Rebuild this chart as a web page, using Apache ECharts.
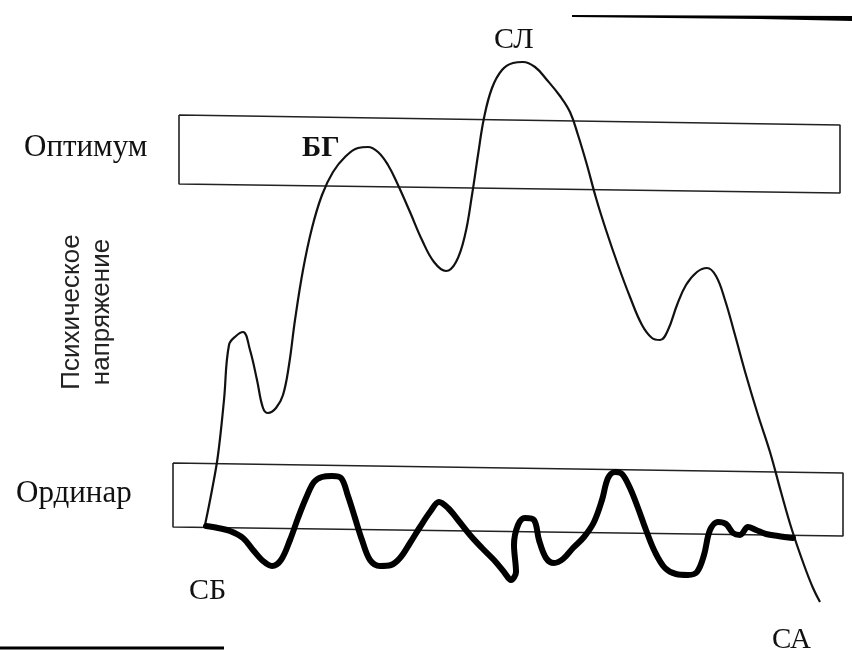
<!DOCTYPE html>
<html><head><meta charset="utf-8">
<script src="https://cdn.jsdelivr.net/npm/echarts@6/dist/echarts.min.js"></script>
<style>html,body{margin:0;padding:0;background:#fff}#c{width:852px;height:651px}</style>
</head><body><div id="c"></div>
<script>
// Thin curve: psychic tension of the athlete (time, tension)
const tensionCurve = [
 [205,525],[212,490],[218,455],[224,400],[229,345],[236,336],[243,332],[250,350],[257,380],[263,408],[268,413],[276,408],[283,395],[289,365],[295,320],[303,270],[312,228],[322,195],[333,172],[345,157],[358,148],[368,147],[378,152],[388,165],[398,185],[410,212],[422,240],[434,262],[446,271],[456,262],[465,235],[472,195],[478,155],[484,118],[492,88],[502,70],[513,63],[523,62],[535,67],[547,80],[560,96],[570,112],[578,135],[587,165],[596,198],[606,230],[618,265],[630,297],[642,325],[652,338],[660,340],[668,330],[677,305],[686,285],[697,272],[707,268],[716,276],[725,300],[735,335],[746,375],[758,415],[770,452],[781,492],[792,530],[804,565],[813,588],[820,602]
];
// Thick curve: ordinary-level fluctuations
const ordinaryCurve = [
 [206,526],[218,528],[230,531],[243,538],[253,550],[263,561],[272,566],[281,560],[290,540],[298,518],[306,498],[314,482],[322,477],[332,476],[341,478],[348,496],[355,518],[362,540],[370,560],[380,566],[391,565],[400,558],[410,543],[420,527],[430,512],[439,502],[448,508],[458,520],[470,535],[482,548],[494,560],[504,572],[511,580],[516,572],[514,545],[518,525],[525,518],[534,520],[539,540],[546,558],[554,563],[563,559],[573,548],[584,537],[594,522],[602,500],[608,478],[615,472],[622,474],[630,488],[638,508],[646,530],[655,552],[665,568],[676,574],[688,575],[697,572],[704,555],[710,530],[718,522],[726,524],[733,533],[740,535],[748,527],[756,530],[766,534],[778,536],[793,538]
];
// Zone boxes (slightly skewed in the scan): [x, y] corners
const optimumBox = [[179,115],[840,125],[840,193],[179,184],[179,115]];
const ordinarBox = [[173,463],[843,473],[843,536],[173,527],[173,463]];
// Text labels
const zoneLabels = ['Оптимум','Ординар'];
const pointLabels = ['БГ','СЛ','СБ','СА'];
const axisTitle = ['Психическое','напряжение'];

const chart = echarts.init(document.getElementById('c'));
const serif = '"Liberation Serif"';
function lbl(text, x, y, size, weight){
  return {type:'text',x:x,y:y,style:{text:text,font:(weight||'normal')+' '+size+'px '+serif,fill:'#111',align:'left',verticalAlign:'middle'}};
}
chart.setOption({
  animation:false,
  backgroundColor:'#fff',
  grid:{left:0,right:0,top:0,bottom:0},
  xAxis:{type:'value',min:0,max:852,show:false},
  yAxis:{type:'value',min:0,max:651,inverse:true,show:false},
  series:[
    {type:'line',data:optimumBox,symbol:'none',lineStyle:{color:'#222',width:1.6},z:1},
    {type:'line',data:ordinarBox,symbol:'none',lineStyle:{color:'#222',width:1.6},z:1},
    {type:'line',data:tensionCurve,symbol:'none',smooth:0.4,lineStyle:{color:'#111',width:2.2},z:3},
    {type:'line',data:ordinaryCurve,symbol:'none',smooth:0.35,lineStyle:{color:'#000',width:6,join:'round',cap:'round'},z:4}
  ],
  graphic:[
    {type:'polygon',shape:{points:[[572,15],[852,16],[852,21],[760,19],[572,17]]},style:{fill:'#000'}},
    {type:'line',shape:{x1:0,y1:648,x2:224,y2:648},style:{stroke:'#000',lineWidth:3}},
    lbl(zoneLabels[0],24,148,31),
    lbl(zoneLabels[1],16,494,31),
    lbl(pointLabels[0],302,149,29,'bold'),
    lbl(pointLabels[1],494,40,30),
    lbl(pointLabels[2],189,591,30),
    lbl(pointLabels[3],772,640,29),
    {type:'text',x:87,y:312,rotation:Math.PI/2,style:{text:axisTitle.join('\n'),font:'26px "Liberation Sans"',fill:'#222',align:'center',verticalAlign:'middle',lineHeight:30}}
  ]
});
</script></body></html>
